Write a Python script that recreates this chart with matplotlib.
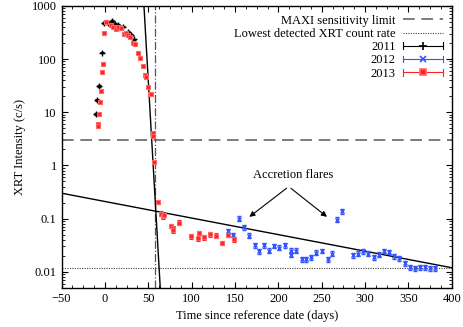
import numpy as np
import matplotlib
matplotlib.use("Agg")
import matplotlib.pyplot as plt
from matplotlib.ticker import MultipleLocator, AutoMinorLocator, FixedLocator, NullFormatter
from matplotlib.legend_handler import HandlerBase
from matplotlib.lines import Line2D

plt.rcParams['font.family'] = ['Liberation Serif', 'DejaVu Serif']
plt.rcParams['font.size'] = 9

# 2011 data (black +)
t2011 = [-10.7, -9.6, -7.3, -3.8, -0.8, 3.1, 7.7, 11.5, 15.3, 21.1, 26.9, 29.6, 33.4]
r2011 = [9.2, 17.0, 31.0, 132.0, 480.0, 480.0, 518.0, 455.0, 435.0, 405.0, 325.0, 283.0, 235.0]

# 2012 data (blue x)
t2012 = [142.2, 147.3, 154.2, 160.0, 166.1, 173.0, 178.0, 183.7, 189.5, 195.3, 201.0, 207.6,
         214.5, 214.5, 220.0, 226.9, 231.8, 237.6, 243.4, 249.9, 257.6, 261.8, 268.0, 273.8,
         285.7, 292.2, 298.0, 303.8, 310.3, 316.5, 321.8, 328.0, 333.8, 339.5, 346.0, 351.8,
         357.5, 363.3, 369.0, 374.8, 380.6]
r2012 = [0.058, 0.049, 0.100, 0.068, 0.048, 0.0316, 0.0244, 0.0316, 0.025, 0.0307, 0.0285, 0.0316,
         0.025, 0.0211, 0.025, 0.017, 0.017, 0.0186, 0.023, 0.0245, 0.017, 0.022, 0.096, 0.137,
         0.0204, 0.022, 0.0243, 0.022, 0.0186, 0.021, 0.0245, 0.0235, 0.0195, 0.0178, 0.0143, 0.0121,
         0.0116, 0.0121, 0.0121, 0.0116, 0.0116]

# 2013 data (red)
t2013 = [-8.4, -8.4, -6.9, -6.1, -5.0, -3.5, -2.0, -0.8, 1.2, 7.3, 9.6, 12.7, 15.3, 18.1, 21.9,
         24.2, 26.9, 29.2, 31.9, 34.6, 37.7, 40.4, 43.5, 46.1, 47.3, 49.9, 51.5, 53.5, 55.0, 55.0,
         56.9, 61.5, 64.6, 67.3, 68.4, 75.7, 78.0, 78.8, 85.3, 99.2, 107.3, 108.8, 113.8, 121.1,
         128.0, 134.6, 142.2, 148.8]
r2013 = [6.0, 5.4, 9.2, 15.7, 25.5, 57.0, 82.0, 314.0, 500.0, 445.0, 395.0, 360.0, 395.0, 385.0, 295.0,
         314.0, 286.0, 256.0, 203.0, 190.0, 132.0, 105.0, 74.0, 50.0, 45.5, 29.5, 21.8, 21.8, 4.0, 3.5,
         1.16, 0.205, 0.124, 0.110, 0.118, 0.0726, 0.066, 0.060, 0.084, 0.0466, 0.0427, 0.054, 0.0446,
         0.0508, 0.048, 0.0349, 0.049, 0.041]

# model lines
steep_t = [45.0, 63.8]
steep_r = [1000.0, 0.005]
slow_t = [-50.0, 400.0]
slow_r = [0.30, 0.0119]
maxi_limit = 3.0
xrt_lowest = 0.0119
vline_t = 58.0

fig = plt.figure(figsize=(4.63, 3.27), dpi=100)
ax = fig.add_axes([0.133, 0.12, 0.8427, 0.862])
ax.set_yscale('log')
ax.set_xlim(-50, 400)
ax.set_ylim(0.005, 1000)


def errs(r):
    r = np.asarray(r)
    frac = np.where(r < 1, 0.10, 0.03)
    return r * frac


ax.axhline(maxi_limit, color='#666666', ls=(0, (7, 4)), lw=1.2, label='MAXI sensitivity limit')
ax.axhline(xrt_lowest, color='#444444', ls=(0, (1, 1.2)), lw=0.8, label='Lowest detected XRT count rate')
ax.axvline(vline_t, color='#555555', ls='-.', lw=0.9)
ax.plot(steep_t, steep_r, color='black', lw=1.0)
ax.plot(slow_t, slow_r, color='black', lw=1.0)

e1 = ax.errorbar(t2011, r2011, yerr=errs(r2011), fmt='+', color='black', ms=5, mew=1.0,
                 elinewidth=0.8, capsize=1.5)
e2 = ax.errorbar(t2012, r2012, yerr=errs(r2012), fmt='x', color='#3355ff', ms=3.5, mew=1.0,
                 elinewidth=0.8, capsize=1.5)
e3 = ax.errorbar(t2013, r2013, yerr=errs(r2013), fmt='s', color='#ff2222', mfc='#ff2222', mec='#ff6666',
                 ms=3, mew=0.8, elinewidth=0.8, capsize=1.5)

ax.annotate('', xy=(164, 0.10), xytext=(212, 0.40),
            arrowprops=dict(arrowstyle='-|>', color='black', lw=0.8, mutation_scale=8))
ax.annotate('', xy=(258.6, 0.10), xytext=(212, 0.40),
            arrowprops=dict(arrowstyle='-|>', color='black', lw=0.8, mutation_scale=8))
ax.text(217, 0.65, 'Accretion flares', ha='center', va='center', fontsize=9)

ax.xaxis.set_major_locator(MultipleLocator(50))
ax.xaxis.set_minor_locator(AutoMinorLocator(4))
ax.yaxis.set_major_locator(FixedLocator([0.01, 0.1, 1, 10, 100, 1000]))
ax.set_yticklabels(['0.01', '0.1', '1', '10', '100', '1000'])
minors = [m * 10.0 ** e for e in range(-3, 3) for m in range(2, 10)]
ax.yaxis.set_minor_locator(FixedLocator(minors))
ax.yaxis.set_minor_formatter(NullFormatter())
ax.tick_params(which='both', direction='in', top=True, right=True)
ax.tick_params(which='major', length=4)
ax.tick_params(which='minor', length=2)
for s in ax.spines.values():
    s.set_linewidth(1.0)

ax.set_xlabel('Time since reference date (days)')
ax.set_ylabel('XRT Intensity (c/s)')


class HErr(HandlerBase):
    def __init__(self, color, marker, ms, mfc=None, mec=None):
        super().__init__()
        self.color, self.marker, self.ms = color, marker, ms
        self.mfc, self.mec = mfc, mec

    def create_artists(self, legend, orig_handle, xdescent, ydescent, width, height, fontsize, trans):
        y = height / 2 - ydescent
        x0, x1 = -xdescent, width - xdescent
        cap = 2.5
        arts = [Line2D([x0, x1], [y, y], color=self.color, lw=0.8, transform=trans),
                Line2D([x0, x0], [y - cap, y + cap], color=self.color, lw=0.8, transform=trans),
                Line2D([x1, x1], [y - cap, y + cap], color=self.color, lw=0.8, transform=trans),
                Line2D([(x0 + x1) / 2], [y], marker=self.marker, ms=self.ms, color=self.color,
                       mfc=self.mfc or self.color, mec=self.mec or self.color, mew=1.2, ls='none',
                       transform=trans)]
        return arts


h_maxi = Line2D([], [], color='#666666', ls=(0, (7, 4)), lw=1.2)
h_xrt = Line2D([], [], color='#444444', ls=(0, (1, 1.2)), lw=0.8)
leg = ax.legend([h_maxi, h_xrt, e1, e2, e3],
                ['MAXI sensitivity limit', 'Lowest detected XRT count rate', '2011', '2012', '2013'],
                handler_map={e1: HErr('black', '+', 6),
                             e2: HErr('#3355ff', 'x', 4.5),
                             e3: HErr('#ff2222', 's', 4, '#ff2222', '#ff6666')},
                loc='upper right', frameon=False, markerfirst=False, fontsize=9,
                handlelength=3.2, labelspacing=0.1, borderaxespad=0.3, handletextpad=0.6)
for t in leg.get_texts():
    t.set_ha('right')

fig.savefig('out.png', dpi=100)
